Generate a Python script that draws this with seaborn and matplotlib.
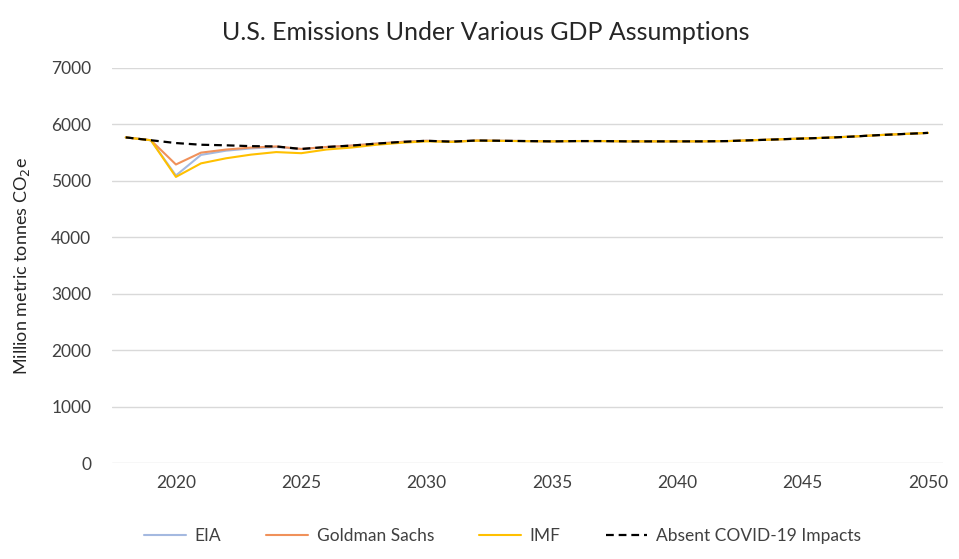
import numpy as np
import pandas as pd
import matplotlib
matplotlib.use('Agg')
import matplotlib.pyplot as plt
import seaborn as sns

years = list(range(2018, 2051))
absent = [5770, 5720, 5670, 5640, 5630, 5615, 5610, 5565, 5600, 5625, 5660, 5690, 5710, 5695, 5715,
          5710, 5705, 5700, 5705, 5705, 5700, 5700, 5700, 5700, 5705, 5720, 5735, 5750, 5765, 5785,
          5810, 5830, 5850]
eia = [5770, 5720, 5095, 5460, 5535, 5575, 5600, 5565, 5600, 5625, 5660, 5690, 5710, 5695, 5715,
       5710, 5705, 5700, 5705, 5705, 5700, 5700, 5700, 5700, 5705, 5720, 5735, 5750, 5765, 5785,
       5810, 5830, 5850]
goldman = [5770, 5720, 5290, 5500, 5555, 5590, 5610, 5565, 5600, 5625, 5660, 5690, 5710, 5695, 5715,
           5710, 5705, 5700, 5705, 5705, 5700, 5700, 5700, 5700, 5705, 5720, 5735, 5750, 5765, 5785,
           5810, 5830, 5850]
imf = [5770, 5720, 5070, 5310, 5400, 5465, 5510, 5490, 5555, 5590, 5640, 5675, 5700, 5690, 5712,
       5708, 5703, 5700, 5705, 5705, 5700, 5700, 5700, 5700, 5705, 5720, 5735, 5750, 5765, 5785,
       5810, 5830, 5850]

series = {'EIA': eia, 'Goldman Sachs': goldman, 'IMF': imf, 'Absent COVID-19 Impacts': absent}
colors = {'EIA': '#a4b9e0', 'Goldman Sachs': '#f0915a', 'IMF': '#ffc000', 'Absent COVID-19 Impacts': '#000000'}

df = pd.DataFrame([(y, name, v) for name, vals in series.items() for y, v in zip(years, vals)],
                  columns=['year', 'series', 'value'])

sns.set_style('white')
plt.rcParams['font.family'] = ['Lato', 'DejaVu Sans']

fig = plt.figure(figsize=(9.59, 5.59), dpi=100)
ax = fig.add_axes([112 / 959, 96 / 559, 831 / 959, 395 / 559])

for name in series:
    sub = df[df['series'] == name]
    dashed = name.startswith('Absent')
    sns.lineplot(data=sub, x='year', y='value', ax=ax, color=colors[name], label=name,
                 linewidth=1.6 if dashed else 1.5,
                 linestyle=(0, (3.5, 2.2)) if dashed else '-')

ax.set_xlim(2017.45, 2050.6)
ax.set_ylim(0, 7000)
ax.set_yticks(range(0, 7001, 1000))
ax.set_xticks(range(2020, 2051, 5))
ax.grid(axis='y', color='#d9d9d9', linewidth=1)
ax.grid(axis='x', visible=False)
for s in ax.spines.values():
    s.set_visible(False)
ax.tick_params(axis='x', length=0, labelsize=12.5, colors='#404040', pad=9)
ax.tick_params(axis='y', length=0, labelsize=12.5, colors='#404040', pad=15)
ax.set_xlabel('')
ax.set_ylabel('Million metric tonnes CO$_2$e', fontsize=13, color='#262626', labelpad=14)
fig.suptitle('U.S. Emissions Under Various GDP Assumptions', fontsize=18, color='#262626', y=0.962, x=0.506)

ax.legend(loc='upper center', bbox_to_anchor=(0.47, -0.125), ncol=4, frameon=False, fontsize=12.5,
          handlelength=2.4, handletextpad=0.5, columnspacing=2.6, labelcolor='#404040')

fig.savefig('out.png', dpi=100)
